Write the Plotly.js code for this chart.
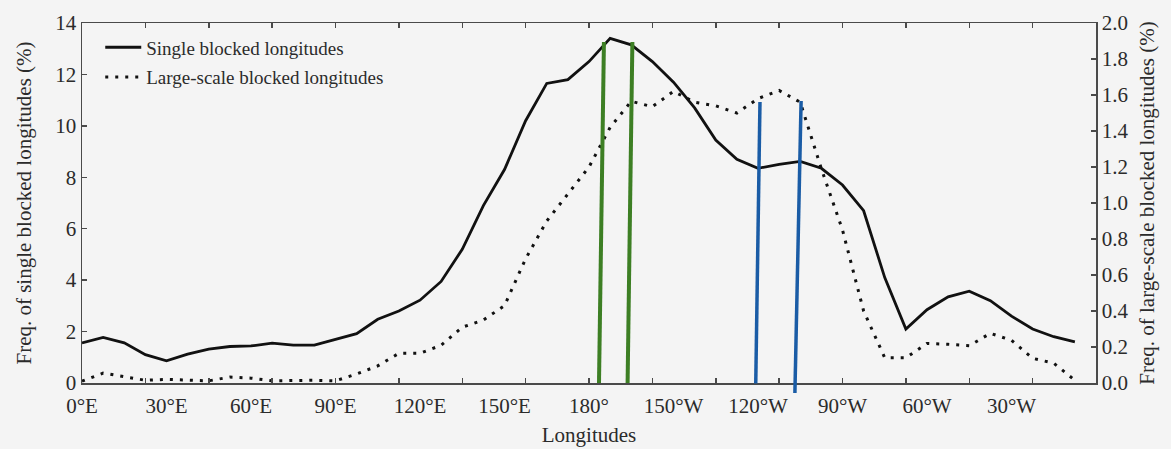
<!DOCTYPE html>
<html>
<head>
<meta charset="utf-8">
<script src="https://cdn.plot.ly/plotly-3.0.1.min.js"></script>
<style>html,body{margin:0;padding:0;background:#f4f4f4;}</style>
</head>
<body>
<div id="chart" style="width:1171px;height:449px;"></div>
<script>
// Longitudes (degrees east, 0..352.5 every 7.5)
const longitudes = [0,7.5,15,22.5,30,37.5,45,52.5,60,67.5,75,82.5,90,97.5,105,112.5,120,127.5,135,142.5,150,157.5,165,172.5,180,187.5,195,202.5,210,217.5,225,232.5,240,247.5,255,262.5,270,277.5,285,292.5,300,307.5,315,322.5,330,337.5,345,352.5];
// Freq. of single blocked longitudes (%), left axis
const singleFreq = [1.56,1.77,1.56,1.10,0.86,1.12,1.32,1.42,1.44,1.55,1.47,1.47,1.70,1.92,2.48,2.80,3.22,3.95,5.2,6.9,8.3,10.2,11.65,11.8,12.5,13.4,13.15,12.5,11.7,10.7,9.45,8.7,8.35,8.5,8.62,8.35,7.7,6.7,4.1,2.1,2.85,3.35,3.57,3.2,2.6,2.1,1.8,1.6];
// Freq. of large-scale blocked longitudes (%), right axis
const largeFreq = [0.01,0.055,0.035,0.015,0.02,0.015,0.012,0.033,0.027,0.012,0.015,0.015,0.012,0.05,0.095,0.165,0.165,0.21,0.31,0.35,0.43,0.69,0.90,1.05,1.20,1.42,1.565,1.535,1.62,1.56,1.54,1.50,1.58,1.625,1.56,1.19,0.85,0.40,0.14,0.14,0.22,0.215,0.207,0.276,0.237,0.137,0.11,0.015];
// Tick labels
const xLabelVals = [0,30,60,90,120,150,180,210,240,270,300,330];
const xLabelText = ['0°E','30°E','60°E','90°E','120°E','150°E','180°','150°W','120°W','90°W','60°W','30°W'];
const xMinorTicks = [0,22.5,45,67.5,90,112.5,135,157.5,180,202.5,225,247.5,270,292.5,315,337.5,360];
const seriesNames = ['Single blocked longitudes','Large-scale blocked longitudes'];
// Highlight markers drawn over the chart: [x0, y0, x1, y1] in (longitude, left-axis %) units
const greenMarks = [[183.55,0.0,185.3,13.26],[193.7,0.0,195.4,13.26]];
const blueMarks = [[239.2,-0.02,240.7,10.93],[253.1,-0.39,255.3,10.97]];

const yLeftRange = [0,14];
const fontFam = '"Liberation Serif","Times New Roman",serif';
const textCol = '#2b2b2b';
const axCol = '#4a4a4a';

const traces = [
  {x: longitudes, y: singleFreq, name: seriesNames[0], type: 'scatter', mode: 'lines',
   line: {color: '#111111', width: 2.8}, xaxis: 'x', yaxis: 'y', legendgroup: 'a'},
  {x: longitudes, y: largeFreq, name: seriesNames[1], type: 'scatter', mode: 'lines',
   line: {color: '#111111', width: 3, dash: '3px,7px'}, xaxis: 'x', yaxis: 'y2', legendgroup: 'b'},
  {x: [], y: [], xaxis: 'x2', yaxis: 'y', showlegend: false, hoverinfo: 'skip'}
];

function markShapes(marks, color, width) {
  const span = yLeftRange[1] - yLeftRange[0];
  return marks.map(m => ({type: 'line', xref: 'x', yref: 'y domain',
    x0: m[0], y0: (m[1]-yLeftRange[0])/span, x1: m[2], y1: (m[3]-yLeftRange[0])/span,
    line: {color: color, width: width}, layer: 'above'}));
}

const layout = {
  width: 1171, height: 449,
  margin: {l: 82, r: 75, t: 23, b: 66},
  paper_bgcolor: '#f4f4f4', plot_bgcolor: '#f4f4f4',
  font: {family: fontFam, color: textCol, size: 20},
  showlegend: true,
  legend: {x: 0.018, y: 0.985, xanchor: 'left', yanchor: 'top', bgcolor: 'rgba(0,0,0,0)',
    font: {family: fontFam, size: 19, color: textCol}, tracegroupgap: 2, itemwidth: 36},
  xaxis: {range: [0,360], tickmode: 'array', tickvals: xLabelVals, ticktext: xLabelText,
    ticks: '', showline: true, mirror: true, linecolor: axCol, linewidth: 1.5, ticklabelstandoff: 3,
    showgrid: false, zeroline: false, tickfont: {size: 21, family: fontFam, color: textCol},
    title: {text: 'Longitudes', font: {size: 21, family: fontFam, color: textCol}, standoff: 10}},
  xaxis2: {overlaying: 'x', anchor: 'y', range: [0,360], tickmode: 'array', tickvals: xMinorTicks,
    ticks: 'inside', ticklen: 5, tickwidth: 1.5, tickcolor: axCol, mirror: 'ticks', showline: false,
    showticklabels: false, showgrid: false, zeroline: false},
  yaxis: {range: yLeftRange, dtick: 2, tick0: 0, ticks: 'inside', ticklen: 5, tickwidth: 1.5, tickcolor: axCol,
    showline: true, linecolor: axCol, linewidth: 1.5, showgrid: false, zeroline: false,
    tickfont: {size: 21, family: fontFam, color: textCol},
    title: {text: 'Freq. of single blocked longitudes (%)', font: {size: 21, family: fontFam, color: textCol}, standoff: 18}},
  yaxis2: {overlaying: 'y', side: 'right', anchor: 'x', range: [0,2], dtick: 0.2, tick0: 0, tickformat: '.1f',
    ticks: 'inside', ticklen: 5, tickwidth: 1.5, tickcolor: axCol,
    showline: true, linecolor: axCol, linewidth: 1.5, showgrid: false, zeroline: false,
    tickfont: {size: 21, family: fontFam, color: textCol},
    title: {text: 'Freq. of large-scale blocked longitudes (%)', font: {size: 21, family: fontFam, color: textCol}, standoff: 12}},
  shapes: markShapes(greenMarks, '#3d7f24', 4).concat(markShapes(blueMarks, '#1a5ca6', 3.5))
};

Plotly.newPlot('chart', traces, layout, {displayModeBar: false, staticPlot: true});
</script>
</body>
</html>
